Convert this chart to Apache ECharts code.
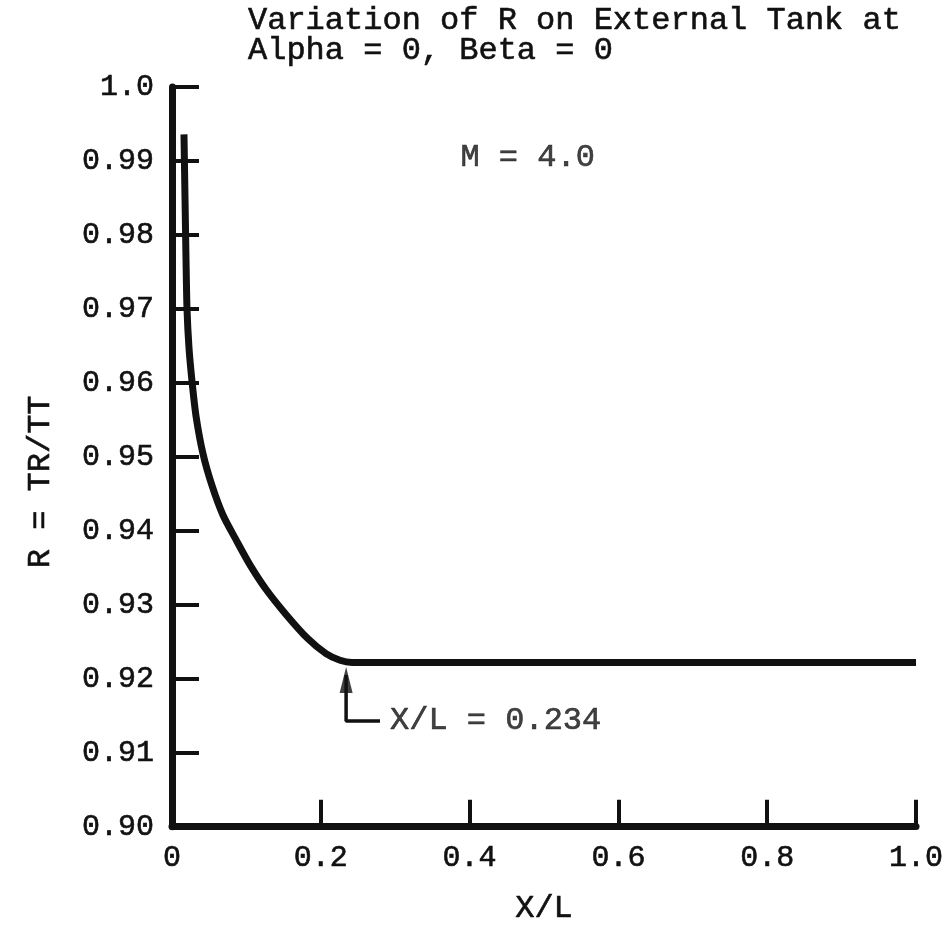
<!DOCTYPE html>
<html>
<head>
<meta charset="utf-8">
<script src="https://cdn.jsdelivr.net/npm/echarts@6/dist/echarts.min.js"></script>
<style>
  html, body { margin: 0; padding: 0; background: #fff; }
  #chart { width: 947px; height: 930px; }
</style>
</head>
<body>
<div id="chart"></div>
<script>
// curve R vs X/L
var curveX = [0.0161, 0.0175, 0.0188, 0.0202, 0.0228, 0.0269, 0.0323, 0.0417, 0.0538, 0.0686, 0.0860, 0.1048, 0.1263, 0.1532, 0.1828, 0.2070, 0.2258, 0.2419, 1.0];
var curveR = [0.9936, 0.9849, 0.9769, 0.9699, 0.9648, 0.9602, 0.9555, 0.9504, 0.9461, 0.9421, 0.9388, 0.9354, 0.9321, 0.9287, 0.9254, 0.9234, 0.9225, 0.9222, 0.9222];

// arrow pointing at X/L = 0.234
var arrowX = [0.2796, 0.234, 0.234];
var arrowR = [0.9143, 0.9143, 0.9205];
var arrowTip = [0.234, 0.9216];
var arrowText = 'X/L = 0.234';

var machText = 'M = 4.0';
var machPos = [0.478, 0.9905];

var xTickLabels = { '0': '0', '0.2': '0.2', '0.4': '0.4', '0.6': '0.6', '0.8': '0.8', '1': '1.0' };
var yTickLabels = { '0.9': '0.90', '1': '1.0' };

var titleText = 'Variation of R on External Tank at\nAlpha = 0, Beta = 0';

var font = 'Liberation Mono';
var ink = '#111';

var curveData = curveX.map(function (x, i) { return [x, curveR[i]]; });
var arrowData = arrowX.map(function (x, i) { return [x, arrowR[i]]; });

// slightly heavier text, like the typewriter original
var heavy = { textBorderColor: ink, textBorderWidth: 0.6 };

var myChart = echarts.init(document.getElementById('chart'));
myChart.setOption({
  animation: false,
  backgroundColor: '#fff',
  title: {
    text: titleText,
    left: 248,
    top: 6,
    padding: 0,
    textStyle: Object.assign({ fontFamily: font, fontSize: 32, fontWeight: 'normal', color: ink, lineHeight: 30 }, heavy)
  },
  grid: { left: 172, right: 31, top: 87, bottom: 95, containLabel: false },
  xAxis: {
    type: 'value',
    min: 0,
    max: 1,
    interval: 0.2,
    name: 'X/L',
    nameLocation: 'middle',
    nameGap: 66,
    nameTextStyle: Object.assign({ fontFamily: font, fontSize: 32, color: ink }, heavy),
    axisLine: { lineStyle: { color: ink, width: 7 } },
    axisTick: { inside: true, length: 27, lineStyle: { color: ink, width: 4 } },
    splitLine: { show: false },
    axisLabel: Object.assign({
      fontFamily: font, fontSize: 30, color: ink, margin: 16,
      formatter: function (v) { return xTickLabels[String(+v.toFixed(2))] || v; }
    }, heavy)
  },
  yAxis: {
    type: 'value',
    min: 0.9,
    max: 1.0,
    interval: 0.01,
    name: 'R = TR/TT',
    nameLocation: 'middle',
    nameRotate: 90,
    nameGap: 115,
    nameTextStyle: Object.assign({ fontFamily: font, fontSize: 32, color: ink, padding: [0, 50, 0, 0] }, heavy),
    axisLine: { lineStyle: { color: ink, width: 7 } },
    axisTick: { inside: true, length: 27, lineStyle: { color: ink, width: 4 } },
    splitLine: { show: false },
    axisLabel: Object.assign({
      fontFamily: font, fontSize: 30, color: ink, margin: 18,
      formatter: function (v) {
        var k = String(+v.toFixed(2));
        return yTickLabels[k] || v.toFixed(2);
      }
    }, heavy)
  },
  series: [
    {
      type: 'line',
      data: curveData,
      symbol: 'none',
      smooth: 0.25,
      lineStyle: { color: ink, width: 7 }
    },
    {
      type: 'line',
      data: arrowData,
      symbol: 'none',
      lineStyle: { color: ink, width: 3.5 }
    },
    {
      type: 'scatter',
      data: [arrowTip],
      symbol: 'triangle',
      symbolSize: [13, 26],
      symbolOffset: [0, '50%'],
      itemStyle: { color: ink }
    },
    {
      type: 'scatter',
      symbolSize: 0,
      data: [
        { value: [arrowX[0], arrowR[0]], label: { show: true, position: 'right', distance: 10, formatter: arrowText } },
        { value: machPos, label: { show: true, position: 'inside', formatter: machText } }
      ],
      label: Object.assign({ fontFamily: font, fontSize: 32, color: ink }, heavy),
      itemStyle: { color: 'transparent' }
    }
  ]
});
</script>
</body>
</html>
